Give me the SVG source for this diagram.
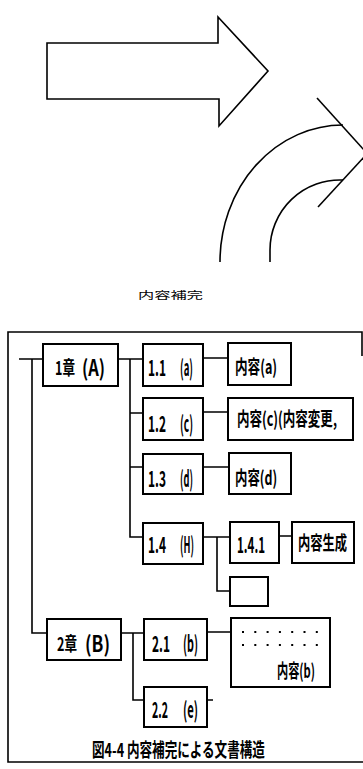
<svg xmlns="http://www.w3.org/2000/svg" width="363" height="769" viewBox="0 0 363 769">
<style>
.ln{fill:none;stroke:#000;stroke-width:1.6;stroke-linejoin:miter}
.bx{fill:#fff;stroke:#000;stroke-width:2}
.t{font-family:"Noto Sans CJK JP","Noto Sans",sans-serif;font-weight:bold;font-size:22px;fill:#000}
.c{font-family:"Noto Sans CJK JP","Noto Sans",sans-serif;font-weight:bold;font-size:19px;fill:#000}
.s{font-family:"Noto Sans CJK JP","Noto Sans",sans-serif;font-size:10px;fill:#000}
</style>
<rect width="363" height="769" fill="#fff"/>
<g id="big-arrow">
<polygon class="ln" points="47,43 218,43 218,17 268,71 219,126 219,99 47,99"/>
</g>
<g id="curved-arrow">
<path class="ln" d="M220,262 A123,137 0 0 1 343,125"/>
<path class="ln" d="M270,262 L270,250 A70,70 0 0 1 343,180"/>
<line class="ln" x1="317" y1="98" x2="364" y2="150"/>
<line class="ln" x1="318" y1="207" x2="364" y2="157"/>
</g>
<g id="label-hokan">
<text class="s" transform="translate(138,299) scale(1.625,1)" textLength="40" lengthAdjust="spacingAndGlyphs">内容補完</text>
</g>
<g id="frame">
<path class="ln" d="M362,356 V332 H8 V762 H363"/>
</g>
<g id="connectors">
<path class="ln" d="M19,359 H43 M32,359 V633 H47"/>
<path class="ln" d="M118,359 H143 M130,359 V537 H143 M130,413 H143 M130,467 H143"/>
<path class="ln" d="M203,358 H228 M203,412 H228 M203,467 H229"/>
<path class="ln" d="M203,537 H230 M217,537 V591 H230 M279,536 H292"/>
<path class="ln" d="M121,633 H144 M133,633 V700 H144 M207,632 H231 M207,700 H213"/>
</g>
<g id="n-1sho"><rect class="bx" x="43" y="344" width="75" height="42"/>
<text class="c" transform="translate(55,375) scale(0.687,1)" textLength="29.1" lengthAdjust="spacingAndGlyphs">1章</text>
<text class="t" transform="translate(82,376) scale(0.83,1)" textLength="27.7" lengthAdjust="spacingAndGlyphs">(A)</text></g>
<g id="n-1-1"><rect class="bx" x="143" y="344" width="60" height="42"/>
<text class="t" transform="translate(148,376) scale(0.62,1)" textLength="29" lengthAdjust="spacingAndGlyphs">1.1</text>
<text class="t" transform="translate(180,376) scale(0.5,1)" textLength="26" lengthAdjust="spacingAndGlyphs">(a)</text></g>
<g id="n-1-2"><rect class="bx" x="143" y="398" width="60" height="42"/>
<text class="t" transform="translate(148,432) scale(0.62,1)" textLength="29" lengthAdjust="spacingAndGlyphs">1.2</text>
<text class="t" transform="translate(180,432) scale(0.53,1)" textLength="24.5" lengthAdjust="spacingAndGlyphs">(c)</text></g>
<g id="n-1-3"><rect class="bx" x="143" y="454" width="60" height="40"/>
<text class="t" transform="translate(148,487) scale(0.62,1)" textLength="29" lengthAdjust="spacingAndGlyphs">1.3</text>
<text class="t" transform="translate(180,487) scale(0.48,1)" textLength="27" lengthAdjust="spacingAndGlyphs">(d)</text></g>
<g id="n-1-4"><rect class="bx" x="143" y="523" width="60" height="41"/>
<text class="t" transform="translate(148,553) scale(0.62,1)" textLength="29" lengthAdjust="spacingAndGlyphs">1.4</text>
<text class="t" transform="translate(180,553) scale(0.48,1)" textLength="29" lengthAdjust="spacingAndGlyphs">(H)</text></g>
<g id="n-naiyo-a"><rect class="bx" x="228" y="343" width="63" height="42"/>
<text class="c" transform="translate(235,374) scale(0.69,1)" textLength="61" lengthAdjust="spacingAndGlyphs">内容(a)</text></g>
<g id="n-naiyo-c"><rect class="bx" x="228" y="398" width="125" height="42"/>
<text class="c" transform="translate(237,426) scale(0.68,1)" textLength="147" lengthAdjust="spacingAndGlyphs">内容(c)(内容変更,</text></g>
<g id="n-naiyo-d"><rect class="bx" x="229" y="453" width="62" height="41"/>
<text class="c" transform="translate(235,485) scale(0.69,1)" textLength="61" lengthAdjust="spacingAndGlyphs">内容(d)</text></g>
<g id="n-1-4-1"><rect class="bx" x="230" y="522" width="49" height="41"/>
<text class="t" transform="translate(237,553) scale(0.6,1)" textLength="46.7" lengthAdjust="spacingAndGlyphs">1.4.1</text></g>
<g id="n-seisei"><rect class="bx" x="292" y="522" width="62" height="41"/>
<text class="c" transform="translate(298,550) scale(0.645,1)" textLength="76" lengthAdjust="spacingAndGlyphs">内容生成</text></g>
<g id="n-empty"><rect class="bx" x="230" y="577" width="38" height="29"/></g>
<g id="n-2sho"><rect class="bx" x="47" y="619" width="74" height="41"/>
<text class="c" transform="translate(57,651) scale(0.687,1)" textLength="29.1" lengthAdjust="spacingAndGlyphs">2章</text>
<text class="t" transform="translate(85,652) scale(0.89,1)" textLength="28.1" lengthAdjust="spacingAndGlyphs">(B)</text></g>
<g id="n-2-1"><rect class="bx" x="144" y="619" width="63" height="41"/>
<text class="t" transform="translate(152,652) scale(0.62,1)" textLength="29" lengthAdjust="spacingAndGlyphs">2.1</text>
<text class="t" transform="translate(183,652) scale(0.56,1)" textLength="26.8" lengthAdjust="spacingAndGlyphs">(b)</text></g>
<g id="n-naiyo-b"><rect class="bx" x="231" y="618" width="99" height="69"/>
<g fill="#000"><rect x="242" y="631" width="2" height="2"/><rect x="254.3" y="631" width="2" height="2"/><rect x="266.6" y="631" width="2" height="2"/><rect x="278.9" y="631" width="2" height="2"/><rect x="291.2" y="631" width="2" height="2"/><rect x="303.5" y="631" width="2" height="2"/><rect x="315.8" y="631" width="2" height="2"/><rect x="242" y="644" width="2" height="2"/><rect x="254.3" y="644" width="2" height="2"/><rect x="266.6" y="644" width="2" height="2"/><rect x="278.9" y="644" width="2" height="2"/><rect x="291.2" y="644" width="2" height="2"/><rect x="303.5" y="644" width="2" height="2"/><rect x="315.8" y="644" width="2" height="2"/></g>
<text class="c" transform="translate(277,678) scale(0.62,1)" textLength="61.3" lengthAdjust="spacingAndGlyphs">内容(b)</text></g>
<g id="n-2-2"><rect class="bx" x="144" y="687" width="63" height="40"/>
<text class="t" transform="translate(152,718) scale(0.55,1)" textLength="29" lengthAdjust="spacingAndGlyphs">2.2</text>
<text class="t" transform="translate(183,718) scale(0.58,1)" textLength="25.9" lengthAdjust="spacingAndGlyphs">(e)</text></g>
<g id="caption"><text class="c" transform="translate(92,757) scale(0.67,1)" textLength="258" lengthAdjust="spacingAndGlyphs">図4-4 内容補完による文書構造</text></g>
</svg>
